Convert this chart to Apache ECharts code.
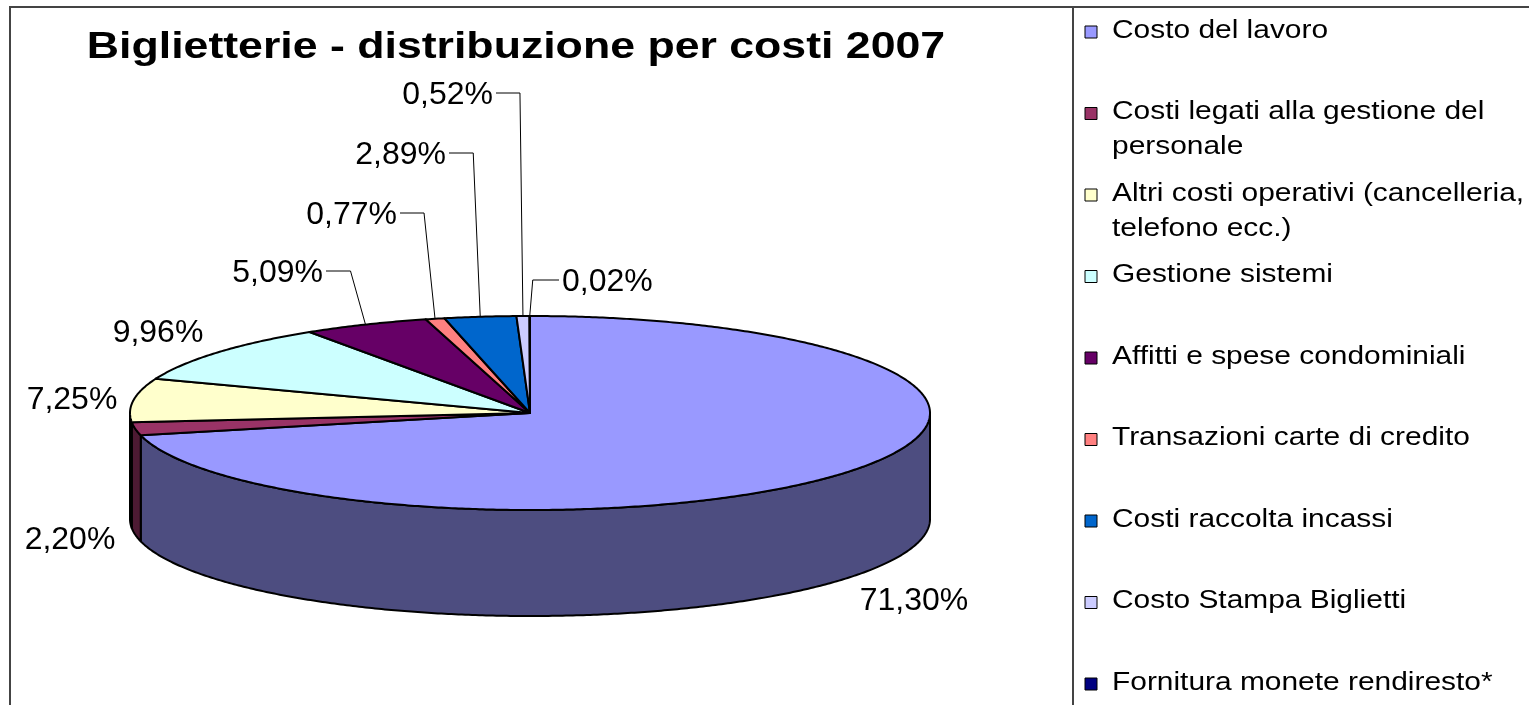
<!DOCTYPE html>
<html>
<head>
<meta charset="utf-8">
<title>Biglietterie - distribuzione per costi 2007</title>
<script src="https://cdn.jsdelivr.net/npm/echarts@6/dist/echarts.min.js"></script>
<style>
    html, body { margin: 0; padding: 0; background: #fff; }
    #chart { width: 1529px; height: 705px; }
</style>
</head>
<body>
<div id="chart"></div>
<script>
    var titleText = 'Biglietterie - distribuzione per costi 2007';

    var categories = [
        'Costo del lavoro',
        'Costi legati alla gestione del\npersonale',
        'Altri costi operativi (cancelleria,\ntelefono ecc.)',
        'Gestione sistemi',
        'Affitti e spese condominiali',
        'Transazioni carte di credito',
        'Costi raccolta incassi',
        'Costo Stampa Biglietti',
        'Fornitura monete rendiresto*'
    ];
    var values = [71.30, 2.20, 7.25, 9.96, 5.09, 0.77, 2.89, 0.52, 0.02];
    var colors = ['#9999FF', '#993366', '#FFFFCC', '#CCFFFF', '#660066', '#FF8080', '#0066CC', '#CCCCFF', '#000080'];

    // 3d pie geometry (flattened ellipse + wall height)
    var pie = { cx: 530, cy: 413, rx: 400, ry: 97, depth: 106 };

    // where each percentage label sits, and the bend of its leader line
    var labelLayout = [
        { x: 914, y: 601, align: 'center' },
        { x: 70, y: 540, align: 'center' },
        { x: 72, y: 400, align: 'center' },
        { x: 158, y: 333, align: 'center' },
        { x: 323, y: 273, align: 'right', elbow: -15 },
        { x: 397, y: 215, align: 'right', elbow: -11 },
        { x: 446, y: 155, align: 'right', elbow: -7 },
        { x: 493, y: 95, align: 'right', elbow: -3 },
        { x: 562, y: 282, align: 'left', elbow: 3 }
    ];

    var total = values.reduce(function (a, b) { return a + b; }, 0);
    var cum = [];
    values.reduce(function (acc, v, i) { cum[i] = acc; return acc + v; }, 0);

    function angleAt(frac) {
        return Math.PI / 2 - frac * 2 * Math.PI;
    }
    function pt(a, dy) {
        return [pie.cx + pie.rx * Math.cos(a), pie.cy - pie.ry * Math.sin(a) + (dy || 0)];
    }
    function arc(a0, a1, dy) {
        var n = Math.max(2, Math.ceil(Math.abs(a0 - a1) / (Math.PI / 360)));
        var pts = [];
        for (var i = 0; i <= n; i++) {
            pts.push(pt(a0 + (a1 - a0) * i / n, dy));
        }
        return pts;
    }
    function darken(hex, f) {
        var c = echarts.color.parse(hex);
        return 'rgb(' + Math.round(c[0] * f) + ',' + Math.round(c[1] * f) + ',' + Math.round(c[2] * f) + ')';
    }
    function fmt(v) {
        return v.toFixed(2).replace('.', ',') + '%';
    }

    var renderSlice = function (params, api) {
        var i = params.dataIndex;
        var v = api.value(0);
        var a0 = angleAt(cum[i] / total);
        var a1 = angleAt((cum[i] + v) / total);
        var children = [];

        // outer wall, only on the front half
        var cuts = [a0];
        for (var k = Math.floor(a0 / Math.PI); k * Math.PI > a1; k--) {
            if (k * Math.PI < a0) cuts.push(k * Math.PI);
        }
        cuts.push(a1);
        for (var c = 0; c < cuts.length - 1; c++) {
            var p = cuts[c], q = cuts[c + 1];
            if (Math.sin((p + q) / 2) < 0) {
                children.push({
                    type: 'polygon',
                    shape: { points: arc(p, q, 0).concat(arc(q, p, pie.depth)) },
                    style: { fill: darken(colors[i], 0.5), stroke: '#000', lineWidth: 2, lineJoin: 'round' }
                });
            }
        }

        // top face
        children.push({
            type: 'polygon',
            shape: { points: [[pie.cx, pie.cy]].concat(arc(a0, a1, 0)) },
            style: { fill: colors[i], stroke: '#000', lineWidth: 2, lineJoin: 'round' }
        });

        // label + leader
        var lay = labelLayout[i];
        children.push({
            type: 'text',
            x: lay.x,
            y: lay.y,
            z2: 10,
            style: {
                text: fmt(v),
                font: '32px "Liberation Sans", Arial, sans-serif',
                fill: '#000',
                align: lay.align,
                verticalAlign: 'middle'
            }
        });
        if (lay.elbow !== undefined) {
            var anchor = pt((a0 + a1) / 2, 0);
            var sx = lay.align === 'right' ? lay.x + 3 : lay.x - 3;
            children.push({
                type: 'polyline',
                z2: 10,
                shape: { points: [[sx, lay.y - 2], [anchor[0] + lay.elbow, lay.y - 2], anchor] },
                style: { stroke: '#000', lineWidth: 1, fill: null }
            });
        }
        return { type: 'group', children: children };
    };

    // frame, title and legend drawn as plain graphic items
    var graphic = [
        {
            type: 'polyline',
            shape: { points: [[10, 705], [10, 7], [1529, 7]] },
            style: { stroke: '#444', lineWidth: 2, fill: null }
        },
        {
            type: 'line',
            shape: { x1: 1073, y1: 7, x2: 1073, y2: 705 },
            style: { stroke: '#444', lineWidth: 2 }
        },
        {
            type: 'text',
            x: 516,
            y: 48,
            scaleX: 1.24,
            style: {
                text: titleText,
                font: 'bold 36px "Liberation Sans", Arial, sans-serif',
                fill: '#000',
                align: 'center',
                verticalAlign: 'middle'
            }
        }
    ];
    categories.forEach(function (name, i) {
        var y = 30 + i * 81.5;
        graphic.push({
            type: 'rect',
            shape: { x: 1085, y: y - 4, width: 12, height: 12 },
            style: { fill: colors[i], stroke: '#000', lineWidth: 1 }
        });
        graphic.push({
            type: 'text',
            x: 1112,
            y: y - 17,
            scaleX: 1.15,
            style: {
                text: name,
                font: '26px "Liberation Sans", Arial, sans-serif',
                fill: '#000',
                verticalAlign: 'top',
                lineHeight: 35
            }
        });
    });

    var myChart = echarts.init(document.getElementById('chart'));
    myChart.setOption({
        backgroundColor: '#fff',
        animation: false,
        graphic: graphic,
        series: [{
            type: 'custom',
            coordinateSystem: 'none',
            renderItem: renderSlice,
            data: values.map(function (v, i) { return { name: categories[i], value: [v] }; })
        }]
    });
</script>
</body>
</html>
